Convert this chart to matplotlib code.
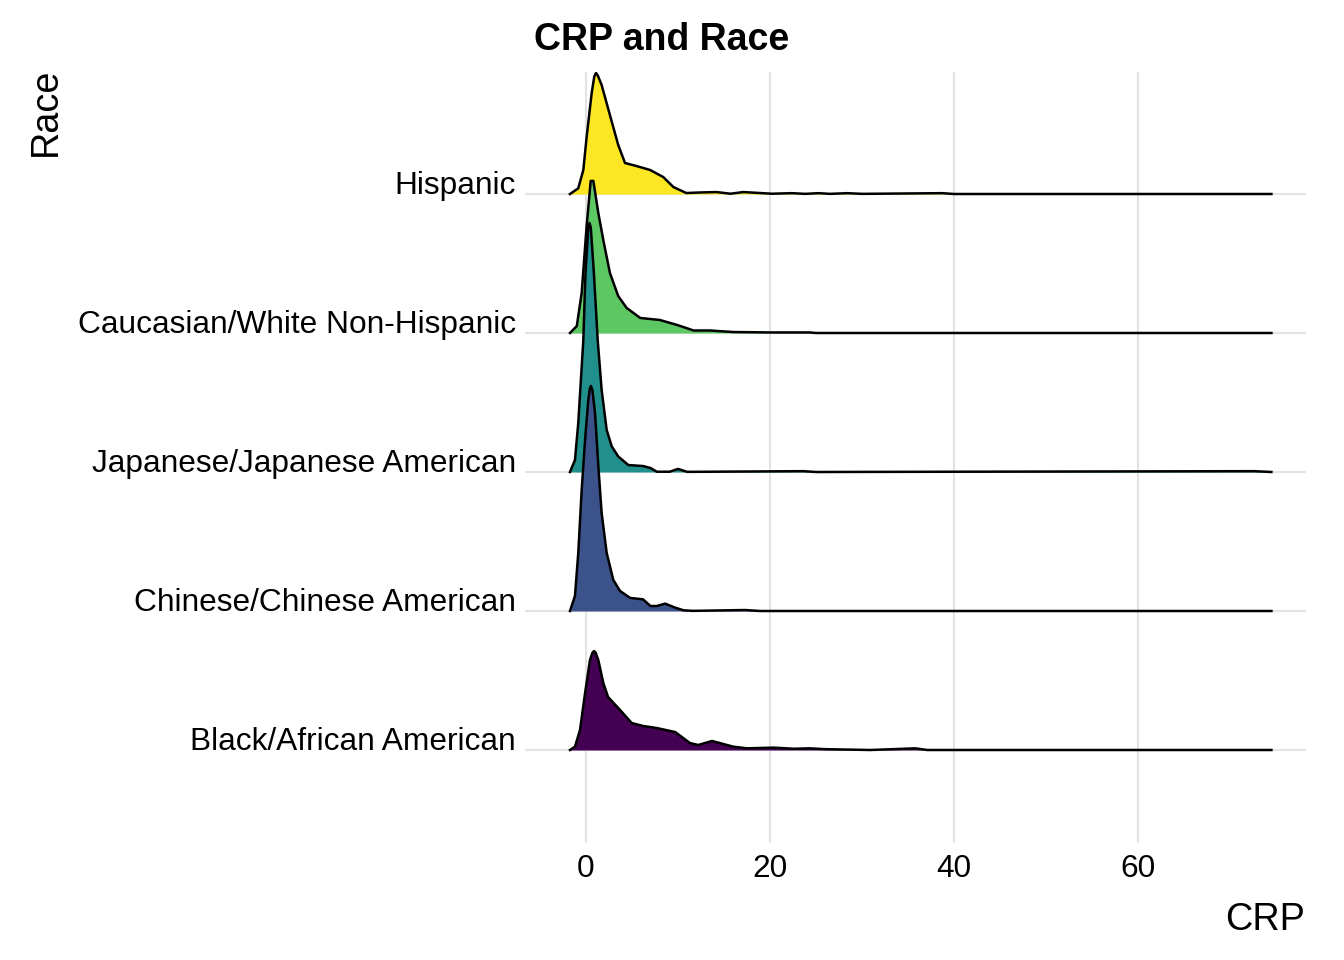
# ridgeline plot: CRP density by race

import matplotlib
matplotlib.use("Agg")
import matplotlib.pyplot as plt

plt.rcParams["font.family"] = ["Liberation Sans", "DejaVu Sans"]

# ------------------------------------------------------------
# Data (density outlines, heights in ridge units)
# ------------------------------------------------------------
races = [
    "Black/African American",
    "Chinese/Chinese American",
    "Japanese/Japanese American",
    "Caucasian/White Non-Hispanic",
    "Hispanic",
]
colors = ["#440154", "#3B528B", "#21908C", "#5DC863", "#FDE725"]

black_x = [-1.74, -1.2, -0.65, -0.1, 0.43, 0.7, 0.87, 1.05, 1.34, 1.88, 2.4, 3.7, 4.97, 6.2, 7.7, 9.7,
           11.3, 12.2, 13.7, 16.0, 17.5, 20.4, 22.6, 24.3, 26.0, 30.9, 35.8, 37.1, 74.5]
black_h = [0, 0.024, 0.144, 0.410, 0.647, 0.700, 0.712, 0.700, 0.647, 0.482, 0.381, 0.288, 0.194, 0.173, 0.158, 0.129,
           0.050, 0.036, 0.065, 0.024, 0.012, 0.017, 0.009, 0.012, 0.006, 0, 0.012, 0, 0]

chinese_x = [-1.74, -1.2, -0.84, -0.47, -0.1, 0.25, 0.42, 0.54, 0.7, 0.98, 1.34, 1.7, 2.25, 2.97, 3.7, 4.8,
             6.2, 7.0, 7.7, 8.6, 9.7, 10.6, 11.6, 17.3, 18.9, 74.5]
chinese_h = [0, 0.108, 0.417, 0.871, 1.230, 1.518, 1.600, 1.619, 1.590, 1.424, 1.043, 0.705, 0.417, 0.223, 0.144, 0.094,
             0.084, 0.036, 0.036, 0.053, 0.024, 0.005, 0.001, 0.007, 0, 0]

japanese_x = [-1.74, -1.2, -0.84, -0.29, -0.05, 0.25, 0.38, 0.52, 0.85, 1.27, 1.7, 2.25, 2.8, 3.5, 4.6, 6.2,
              7.0, 7.7, 9.1, 10.0, 11.0, 23.6, 25.0, 72.6, 74.5]
japanese_h = [0, 0.086, 0.353, 0.950, 1.439, 1.760, 1.791, 1.760, 1.439, 0.950, 0.590, 0.302, 0.184, 0.112, 0.050, 0.043,
              0.029, 0.002, 0.002, 0.022, 0.001, 0.006, 0, 0.006, 0]

caucasian_x = [-1.74, -1.0, -0.47, 0.07, 0.51, 0.8, 1.34, 1.88, 2.6, 3.5, 4.42, 5.9, 8.0, 9.9,
               11.7, 13.5, 16.0, 20.0, 24.3, 25.0, 74.5]
caucasian_h = [0, 0.050, 0.288, 0.770, 1.094, 1.094, 0.863, 0.669, 0.432, 0.266, 0.180, 0.108, 0.094, 0.058,
               0.018, 0.018, 0.007, 0.004, 0.004, 0, 0]

hispanic_x = [-1.74, -0.84, -0.29, 0.07, 0.62, 0.9, 1.09, 1.3, 1.7, 2.6, 3.5, 4.24, 5.5, 6.96, 8.4, 9.5,
              10.9, 12.4, 14.2, 15.7, 17.1, 18.9, 20.2, 22.4, 23.8, 25.3, 26.5, 28.4, 30.0, 38.7, 40.0, 74.5]
hispanic_h = [0, 0.041, 0.173, 0.410, 0.727, 0.845, 0.871, 0.850, 0.784, 0.568, 0.353, 0.223, 0.201, 0.173, 0.122, 0.050,
              0.007, 0.011, 0.014, 0.002, 0.014, 0.007, 0.002, 0.006, 0.001, 0.006, 0.001, 0.006, 0.001, 0.006, 0, 0]

ridge_x = [black_x, chinese_x, japanese_x, caucasian_x, hispanic_x]
ridge_h = [black_h, chinese_h, japanese_h, caucasian_h, hispanic_h]

x_ticks = [0, 20, 40, 60]

# ------------------------------------------------------------
# Figure
# ------------------------------------------------------------
fig = plt.figure(figsize=(13.44, 9.6), dpi=100)
ax = fig.add_axes([525 / 1344, 1 - 843 / 960, 781 / 1344, 771 / 960])

ax.set_xlim(-6.63, 78.26)
ax.set_ylim(1 - 93 / 139, 5 + 122 / 139)

# grid
for xt in x_ticks:
    ax.axvline(xt, color="#e3e3e3", lw=1.5, zorder=0)
for i in range(len(races)):
    ax.axhline(i + 1, color="#e3e3e3", lw=1.5, zorder=0)

# ridges: top one first, lower ones drawn over it
n = len(races)
for i in reversed(range(n)):
    base = i + 1
    xs = ridge_x[i]
    ys = [base + h for h in ridge_h[i]]
    z = 2 * (n - i)
    ax.fill_between(xs, base, ys, color=colors[i], lw=0, zorder=z)
    ax.plot(xs, ys, color="black", lw=1.8, zorder=z + 1, solid_joinstyle="round")

ax.set_xticks(x_ticks)
ax.set_xticklabels([str(t) for t in x_ticks])
ax.set_yticks(range(1, n + 1))
ax.set_yticklabels(races)
for lab in ax.get_yticklabels():
    lab.set_verticalalignment("baseline")

ax.tick_params(axis="x", length=0, pad=8, labelsize=22.8)
ax.tick_params(axis="y", length=0, pad=6.5, labelsize=22.8)
for sp in ax.spines.values():
    sp.set_visible(False)

fig.text(662 / 1344, 1 - 50 / 960, "CRP and Race", ha="center", va="baseline",
         fontsize=27, fontweight="bold")
fig.text(46 / 1344, 1 - 68 / 960, "Race", rotation=90, ha="center", va="top", fontsize=27.3)
fig.text(1305 / 1344, 1 - 930 / 960, "CRP", ha="right", va="baseline", fontsize=27.3)

fig.savefig("out.png", dpi=100)
print("Saved: out.png")
